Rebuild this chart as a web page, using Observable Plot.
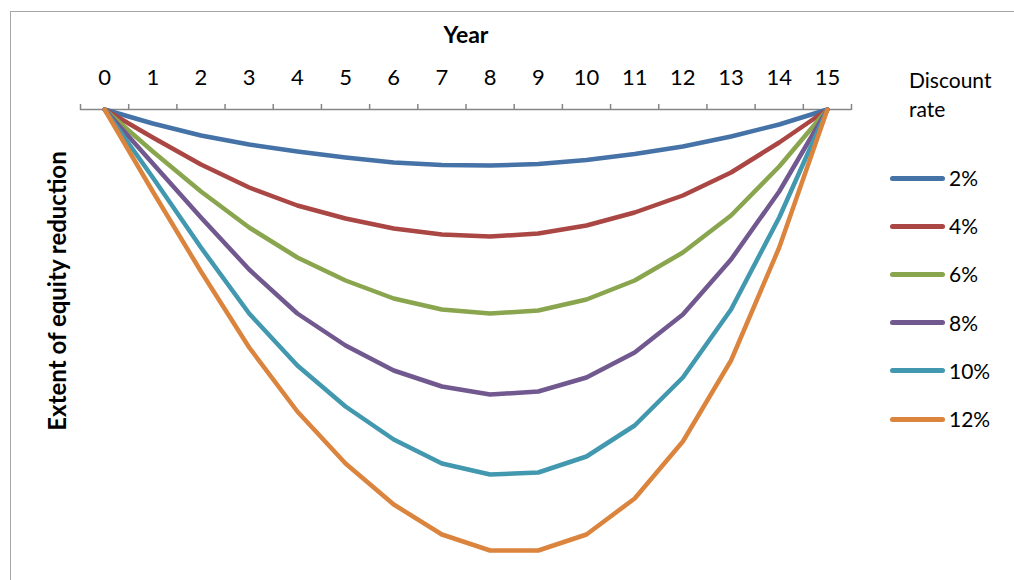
<!DOCTYPE html>
<html>
<head>
<meta charset="utf-8">
<script src="https://cdn.jsdelivr.net/npm/d3@7"></script>
<script src="https://cdn.jsdelivr.net/npm/@observablehq/plot@0.6"></script>
<style>
  html, body { margin: 0; padding: 0; background: #fff; }
  #wrap { position: relative; width: 1014px; height: 580px; overflow: hidden; font-family: Lato, "Open Sans", sans-serif; }
  #frame { position: absolute; left: 10px; top: 11px; width: 1010px; height: 600px; border-top: 1.5px solid #a6a6a6; border-left: 1.5px solid #a6a6a6; }
  #chart { position: absolute; left: 0; top: 0; }
  .lg { position: absolute; font-size: 21px; color: #000; line-height: 1; }
  .sw { position: absolute; height: 5px; border-radius: 3px; }
</style>
</head>
<body>
<div id="wrap">
  <div id="frame"></div>
  <div id="chart"></div>
  <div id="legend"></div>
</div>
<script>
// Years (category axis) and legend entries
const years = [0, 1, 2, 3, 4, 5, 6, 7, 8, 9, 10, 11, 12, 13, 14, 15];
const rates = ["2%", "4%", "6%", "8%", "10%", "12%"];
const colors = ["#4572a7", "#aa4643", "#89a54e", "#71588f", "#4198af", "#db843d"];
const legendTitle = ["Discount", "rate"];

// Extent of equity reduction (relative units)
const r2  = [0, -14, -26, -35, -42, -48, -53, -55.5, -56, -54.5, -50.5, -44.5, -37, -27, -15, 0];
const r4  = [0, -28, -55, -78, -96, -109, -119, -125, -127, -124, -116, -103, -86, -63, -33, 0];
const r6  = [0, -42, -82, -118, -148, -171, -189, -200, -204, -201, -190, -171, -143, -106, -57, 0];
const r8  = [0, -54, -108, -160, -204, -236, -261, -277, -285, -282, -268, -243, -205, -150, -82, 0];
const r10 = [0, -68, -138, -204, -256, -297, -330, -354, -365, -363, -347, -316, -268, -200, -108, 0];
const r12 = [0, -82, -162, -238, -302, -354, -395, -425, -441, -441, -425, -389, -332, -251, -138, 0];

const series = [r2, r4, r6, r8, r10, r12];
const data = [];
series.forEach((vals, i) => vals.forEach((v, j) => data.push({rate: rates[i], year: years[j], value: v})));

// category boundaries for tick marks
const bounds = years.map(y => y - 0.5).concat([years[years.length - 1] + 0.5]);

const chart = Plot.plot({
  width: 1014,
  height: 580,
  marginTop: 109,
  marginLeft: 80,
  marginRight: 163,
  marginBottom: 0,
  style: {fontFamily: "Lato, 'Open Sans', sans-serif", fontSize: "21px", background: "transparent", overflow: "visible"},
  x: {domain: [bounds[0], bounds[bounds.length - 1]]},
  y: {domain: [-471, 0], axis: null},
  color: {domain: rates, range: colors},
  marks: [
    Plot.axisX(bounds, {anchor: "top", tickSize: 6, tickFormat: () => "", label: null, stroke: "#868686", strokeWidth: 1.5}),
    Plot.axisX(years, {anchor: "top", tickSize: 0, tickPadding: 25, label: null, fill: "#000", fontSize: 22}),
    Plot.ruleY([0], {stroke: "#868686", strokeWidth: 1.5}),
    Plot.line(data, {x: "year", y: "value", z: "rate", stroke: "rate", strokeWidth: 4.5, strokeLinejoin: "round", strokeLinecap: "round"}),
    Plot.text(["Year"], {frameAnchor: "top", lineAnchor: "middle", dy: -74, fontWeight: "bold", fontSize: 23, fill: "#000"}),
    Plot.text(["Extent of equity reduction"], {frameAnchor: "left", textAnchor: "middle", lineAnchor: "middle", rotate: -90, dx: -22, dy: -54, fontWeight: "bold", fontSize: 24, fill: "#000"})
  ]
});
document.getElementById("chart").appendChild(chart);

// Legend (HTML)
const lg = document.getElementById("legend");
legendTitle.forEach((t, i) => {
  const d = document.createElement("div");
  d.className = "lg";
  d.textContent = t;
  d.style.left = "909px";
  d.style.top = (69 + i * 29) + "px";
  lg.appendChild(d);
});
rates.forEach((r, i) => {
  const cy = 178 + i * 48.2;
  const s = document.createElement("div");
  s.className = "sw";
  s.style.left = "890px";
  s.style.width = "55px";
  s.style.top = (cy - 2.5) + "px";
  s.style.background = colors[i];
  lg.appendChild(s);
  const t = document.createElement("div");
  t.className = "lg";
  t.textContent = r;
  t.style.left = "949px";
  t.style.top = (cy - 11) + "px";
  lg.appendChild(t);
});
</script>
</body>
</html>
